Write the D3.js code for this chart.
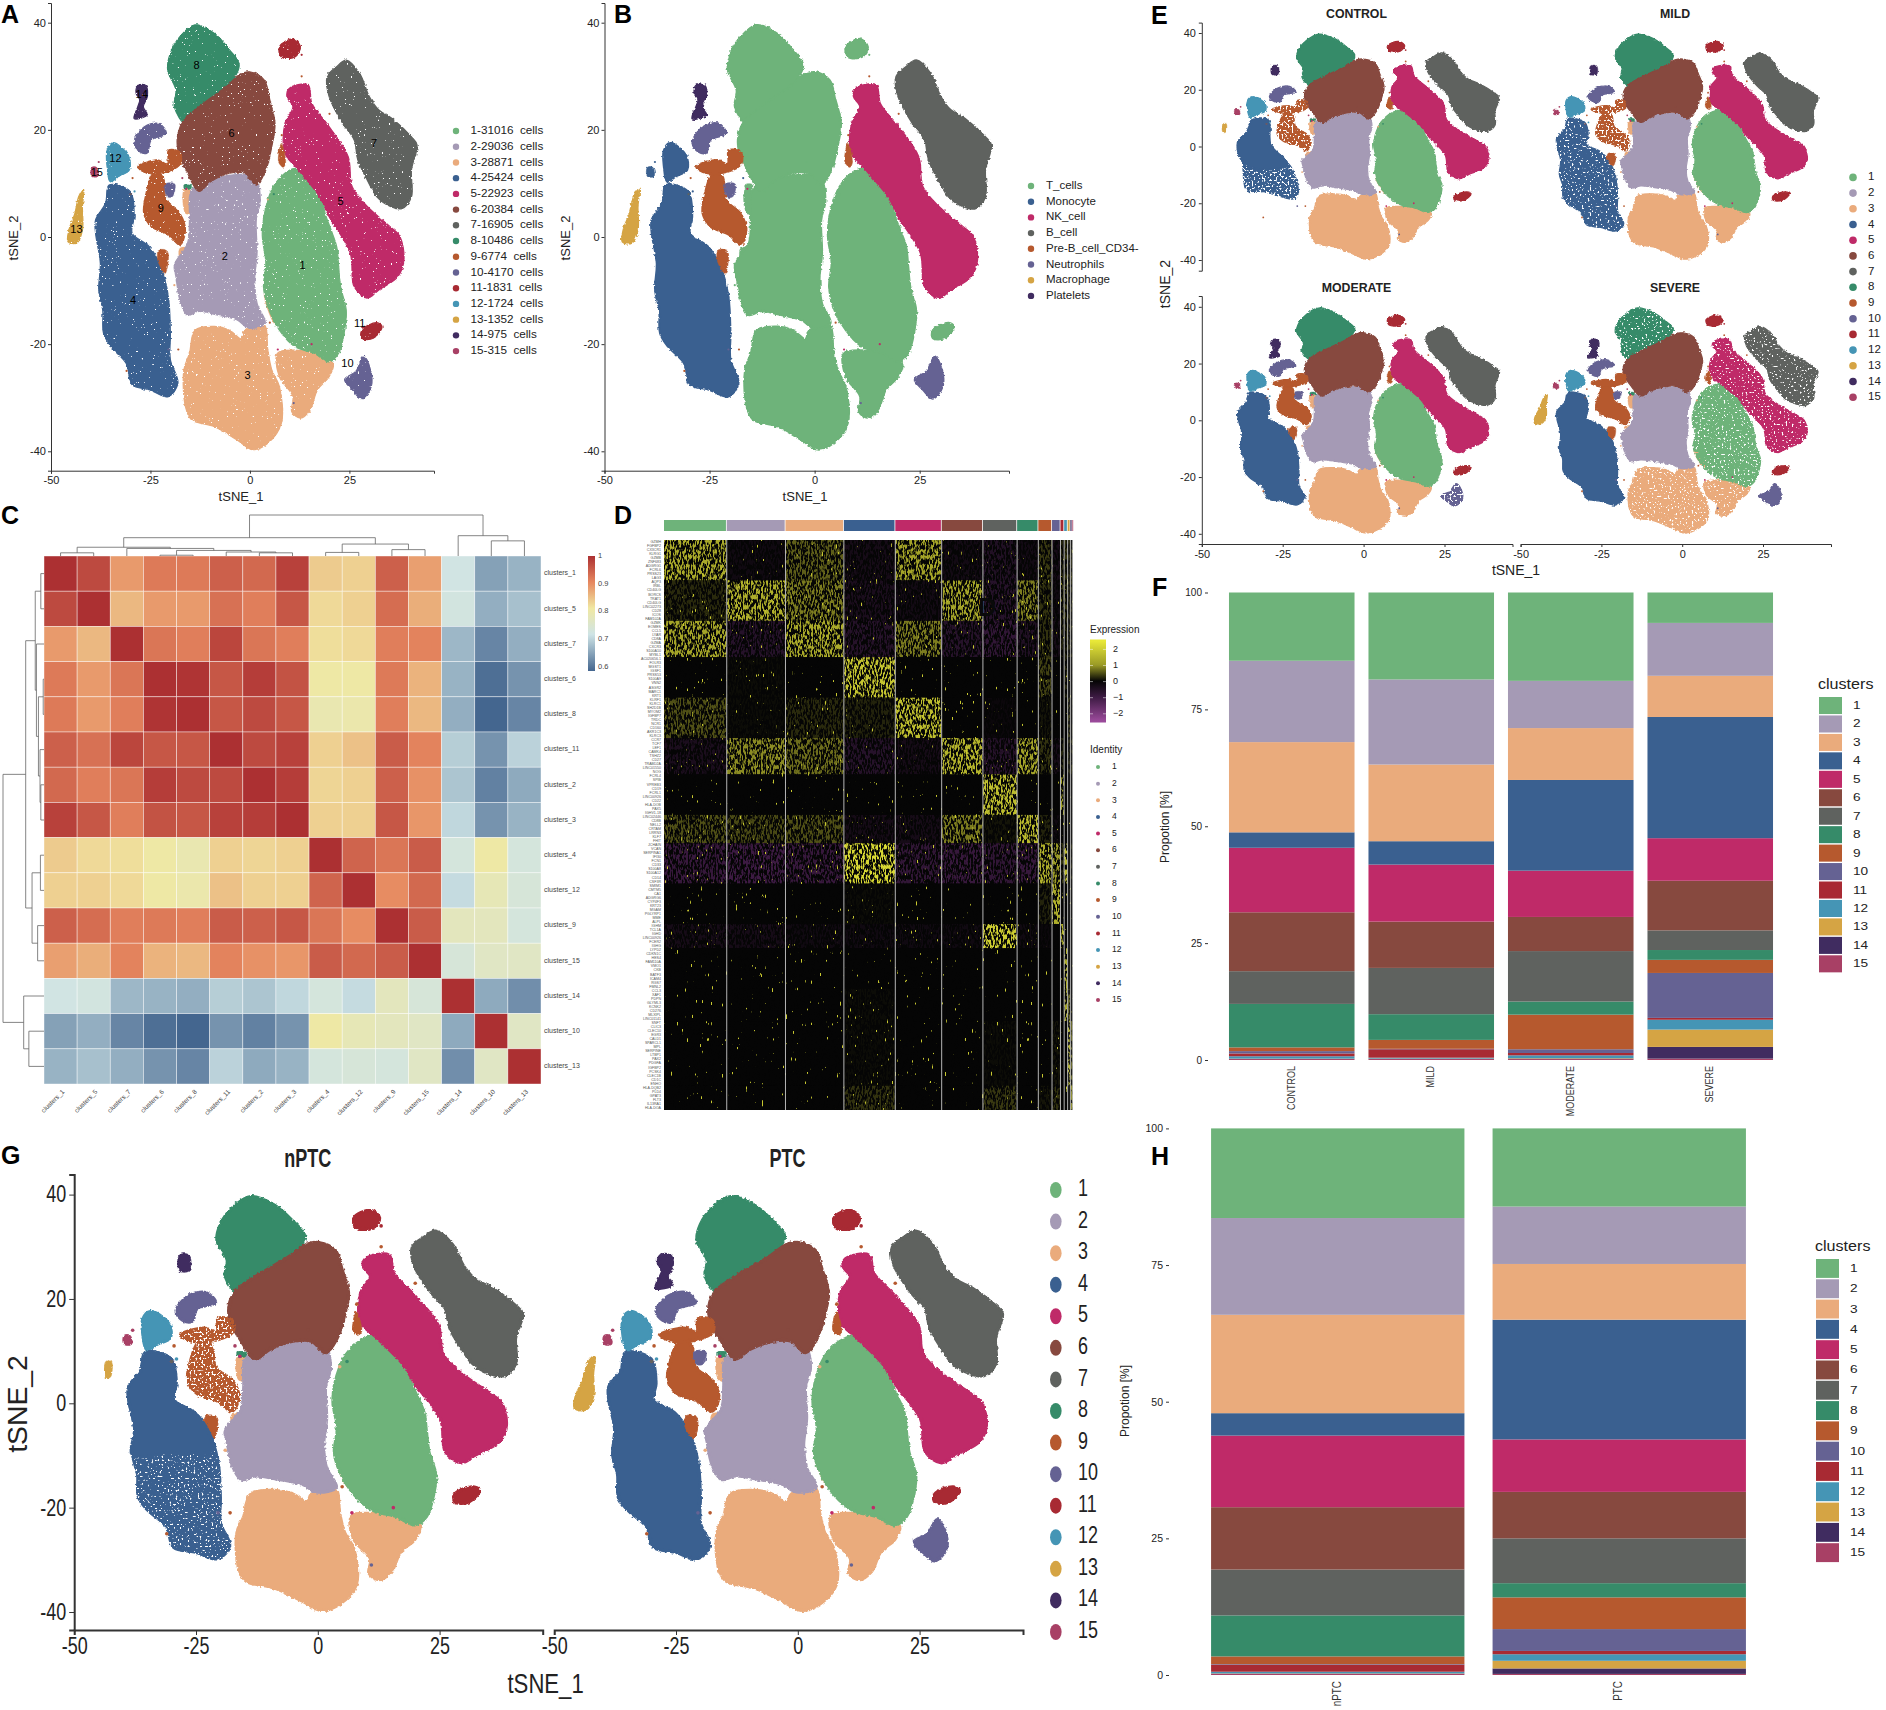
<!DOCTYPE html>
<html>
<head>
<meta charset="utf-8">
<script src="https://cdn.jsdelivr.net/npm/d3@7"></script>
<style>
  body { margin: 0; background: #fff; }
  svg { display: block; font-family: "Liberation Sans", Arial, sans-serif; }
  text { white-space: pre; fill: #222; }
  .panel-label { font-weight: 700; font-size: 25px; fill: #000; }
</style>
</head>
<body>
<svg id="fig" width="1886" height="1710"></svg>
<script>
const clusterColors = ["#6eb37a", "#a59ab5", "#eaab7c", "#3a6090", "#bf2a68", "#87493f", "#5f625f", "#368b69",
  "#b6592e", "#656293", "#a82a33", "#4595b5", "#d5a444", "#402c60", "#a84065"];
const clusterIds = d3.range(1, 16);
const cellCounts = [31016, 29036, 28871, 25424, 22923, 20384, 16905, 10486, 6774, 4170, 1831, 1724, 1352, 975, 315];

const cellTypes = ["T_cells", "Monocyte", "NK_cell", "B_cell", "Pre-B_cell_CD34-", "Neutrophils", "Macrophage", "Platelets"];
const cellTypeColors = ["#6eb37a", "#3a6090", "#bf2a68", "#5f625f", "#b6592e", "#656293", "#d5a444", "#402c60"];
// cell type index of every cluster, used on panel B
const clusterCellType = [0, 0, 0, 1, 2, 0, 3, 0, 4, 5, 0, 1, 6, 7, 1];

// cluster outlines, in tSNE units
const c1 = [[11.7,12.8],[15.1,10.9],[17.8,8.1],[18.9,4.4],[20.4,1.3],[21.8,-1.8],[22.3,-5.5],[22.8,-9.3],[24.2,-13.6],[23.8,-17.4],[22.3,-21.7],[19.9,-23.3],[16.1,-21.7],[11.3,-20.5],[7.4,-17.4],[4.5,-13],[3.4,-9.3],[4,-4.9],[3.1,0.7],[4.5,6.9],[6.4,10],[9.3,12.2]];
const c2 = [[-14.7,8.8],[-10.9,10.3],[-4.1,11.6],[1.2,11.3],[2.6,6.9],[1.6,3.2],[1.8,-3],[1.2,-8],[1.8,-12.4],[3.8,-16.1],[-0.3,-17],[-3.2,-15.5],[-8,-14.6],[-12.8,-13.9],[-15.7,-14.6],[-17.6,-11.8],[-18.6,-7.4],[-19,-5.2],[-15.7,-1.2],[-15.2,3.2],[-15.2,7.5]];
const c3 = [[-13.8,-17.4],[-8.9,-16.7],[-5.1,-17.4],[-2.2,-19],[-1.3,-17.4],[3.6,-16.4],[4.5,-21.1],[5.5,-24.8],[7.4,-27.9],[7.9,-34.8],[4.5,-38.5],[0.7,-39.7],[-3.2,-37.9],[-8.9,-35.4],[-14.7,-34.1],[-16.2,-31.7],[-16.6,-24.8],[-15.2,-21.7]];
const c3Lobe = [[6.9,-21.7],[11.3,-21.1],[16.1,-21.7],[20.9,-23.6],[19.9,-26.1],[17,-28.5],[15.1,-32.3],[12.7,-33.8],[10.5,-32.6],[10.8,-29.8],[7.4,-26.1]];
const c3Sliver = [[3.6,-10.5],[4.5,-10.5],[7.9,-16.4],[6.4,-16.4]];
const c3Upper = [[-16.6,8.8],[-15,8.8],[-15.2,4.4],[-16.2,4.4]];
const c3Mid = [[-17.6,-2.1],[-15.2,-2.1],[-15.7,-4],[-17.6,-4]];
const c4 = [[-35.4,9.7],[-30.1,8.5],[-29.1,3.8],[-29.6,0.7],[-25.3,-1.8],[-22.4,-5.5],[-20.5,-11.1],[-20,-18],[-20,-22.9],[-18.1,-27.3],[-20.5,-29.8],[-25.3,-28.5],[-29.6,-27.6],[-31.1,-23.6],[-34.9,-20.5],[-36.8,-18],[-37,-13.6],[-38,-9.9],[-37.6,-4.9],[-38.8,0.7],[-38.8,3.2],[-36.3,6.3]];
const c4Upper = [[-35.4,9.7],[-30.1,8.5],[-29.1,3.8],[-29.6,0.7],[-25.3,-1.8],[-22.4,-5.5],[-21.5,-9],[-30,-9.5],[-38,-9.9],[-37.6,-4.9],[-38.8,0.7],[-38.8,3.2],[-36.3,6.3]];
const c4Control = [[-34.6,9.3],[-29.4,9.3],[-28.7,0.7],[-22,-8],[-20.3,-17.2],[-22,-18.5],[-30.9,-15.9],[-36,-15.9],[-37.5,-5.3],[-39,1.3],[-36,5.3]];
const c4ControlUpper = [[-34.6,9.3],[-29.4,9.3],[-28.7,0.7],[-23.5,-6],[-31,-8],[-37.5,-5.3],[-39,1.3],[-36,5.3]];
const c5 = [[9.8,27.7],[14.6,28.4],[15.6,24.9],[19.9,20.6],[24.7,15],[25.7,9.4],[29.5,5.7],[35.3,1.9],[37.7,0.1],[38.7,-4.3],[37.2,-7.4],[32.4,-9.9],[29.5,-11.4],[26.2,-9.3],[25.2,-3],[19.9,3.8],[17.5,7.5],[12.2,12.5],[8.8,15.6],[8.8,21.2],[10.8,24.3],[9.3,26.2]];
const c6 = [[0.2,30.8],[3.6,29.3],[5,25.6],[6.3,21.2],[5.5,16.9],[4,12.5],[1.6,9.7],[-1.3,11.9],[-5.1,11.9],[-9.9,10.3],[-12.8,8.5],[-15.7,11.9],[-18.1,16.2],[-18.1,19.3],[-16.6,21.8],[-12.8,24.3],[-6.1,28],[-2.2,30.5]];
const c7 = [[24.2,33],[27.6,30.5],[30,26.2],[32.4,23.7],[35.8,22.1],[40.6,18.7],[42,17.2],[40.6,12.5],[40.6,7.5],[38.2,5.3],[35.3,5.7],[31.9,7.5],[29.5,10.6],[27.1,14.4],[26.2,18.1],[23.3,21.2],[19.9,26.2],[19.4,29.9],[21.8,31.8]];
const c8 = [[-13.8,39.6],[-8.9,38],[-5.1,34.9],[-2.7,32.1],[-5.5,28],[-12,23.5],[-16,21],[-19,24.3],[-18.6,27.4],[-20.7,31.2],[-20,34.3],[-17.6,37.4]];
const c8Bit = [[-16.5,9.8],[-14.8,9.8],[-14.8,9],[-16.5,9]];
const c9 = [[-24.3,11.9],[-21.9,11.3],[-21,6.9],[-17.6,4.4],[-16.2,1.3],[-17.6,-1.5],[-20.5,0.4],[-24.8,1.9],[-26.7,4.4],[-26.3,7.5]];
const c9Top = [[-28.2,13.1],[-23.4,14.4],[-20.7,13.7],[-20.5,16.2],[-17.6,15.9],[-17.4,13.7],[-20.5,12.2],[-25.8,11.9]];
const c9Low = [[-22.9,-2.4],[-20.7,-2.7],[-21.3,-6.8],[-23.2,-4.3]];
const c9Sliver = [[7.9,17.5],[9,14],[8.4,13],[7.2,14]];
const c10Low = [[28.6,-22.3],[30.3,-24.8],[30.5,-27.9],[28.1,-30.2],[25.7,-28.5],[23.8,-26.6],[26.6,-25.1]];
const c10Top = [[-26.7,20.5],[-22.9,21.2],[-21,19.3],[-24.8,18.1],[-25.8,15.7],[-27.7,15.9],[-29.1,17.6]];
const c10Mid = [[-21.3,9.9],[-18.9,9.9],[-19.5,7.5],[-20.8,7.5]];
const c11Top = [[7.4,35.5],[10.8,37],[12.7,35.5],[11.3,33.6],[7.9,33.6]];
const c11Low = [[28.1,-17.4],[31.9,-16],[33.2,-16.7],[31,-18.9],[28.1,-18.9]];
const c12 = [[-34.4,17.6],[-30.6,15.3],[-30.3,12.5],[-33,11.3],[-35.1,10.3],[-35.9,13.1],[-35.9,16.2]];
const c13 = [[-41.8,8.9],[-42.1,5.7],[-42.1,1.3],[-43.5,-1.1],[-45.7,-0.9],[-45.5,1.3],[-44,4.4],[-43,7.6]];
const c13Tiny = [[-43.5,8],[-42.4,8],[-42.6,5],[-43.5,5]];
const c14 = [[-28.2,28.3],[-26.2,28.3],[-25.8,26.2],[-26.8,24.3],[-25.8,22.8],[-29.1,22.1],[-28.2,24.3],[-27.7,25.6],[-28.6,26.8]];
const c14Tiny = [[-28.4,28.4],[-26.4,28.4],[-26.4,25.4],[-28.4,25.4]];
const c15 = [[-39.8,13],[-38.5,13],[-38.2,11.3],[-39.8,11.3]];

// stray cells: cluster, tSNE_1, tSNE_2
const strayCells = [[9,-18,-21],[9,-31,-25],[9,5,-16],[9,13,30],[9,20,23],[9,8,19],[9,-29.5,11],[5,7,-21],[5,15.5,-20],[5,-16,9],
  [3,4.5,7],[3,-19,-9],[10,-20.5,-21],[10,11,-31],[15,-17,11],[15,-30,8],[15,-38,14],[8,6,8],[1,21,-3],[7,-30,8],[6,-2,14],[11,13,34],[12,-29,8.5]];

// panel number labels on A
const labelXs = [13.2, -6.3, -0.6, -29.4, 22.8, -4.6, 31.2, -13.4, -22.4, 24.5, 27.6, -33.8, -43.6, -27.2, -38.5];
const labelYs = [-5.4, -3.7, -26, -11.9, 6.6, 19.2, 17.4, 31.9, 5.2, -23.7, -16.2, 14.5, 1.3, 26.5, 12];

const xTicks = [-50, -25, 0, 25];
const yTicks = [-40, -20, 0, 20, 40];

// correlation heatmap, panel C
const heatOrder = [1, 5, 7, 6, 8, 11, 2, 3, 4, 12, 9, 15, 14, 10, 13];
const heatValues = [
  [1, .97, .88, .915, .915, .945, .935, .98, .83, .825, .945, .875, .705, .625, .645],
  [.97, 1, .85, .88, .88, .925, .91, .955, .815, .825, .93, .86, .71, .64, .66],
  [.88, .85, 1, .92, .91, .975, .92, .91, .81, .815, .91, .905, .65, .595, .64],
  [.915, .88, .92, 1, .995, .955, .985, .96, .795, .795, .915, .855, .645, .57, .61],
  [.915, .88, .91, .995, 1, .955, .97, .955, .78, .785, .91, .85, .64, .56, .595],
  [.945, .925, .975, .955, .955, 1, .97, .98, .825, .84, .95, .905, .675, .61, .68],
  [.935, .91, .92, .985, .97, .97, 1, .985, .82, .825, .945, .89, .665, .59, .635],
  [.98, .955, .91, .96, .955, .98, .985, 1, .825, .825, .955, .885, .685, .61, .645],
  [.83, .815, .81, .795, .78, .825, .82, .825, 1, .94, .92, .95, .715, .795, .715],
  [.825, .825, .815, .795, .785, .84, .825, .825, .94, 1, .895, .935, .69, .77, .72],
  [.945, .93, .91, .915, .91, .95, .945, .955, .92, .895, 1, .95, .76, .76, .715],
  [.875, .86, .905, .855, .85, .905, .89, .885, .95, .935, .95, 1, .72, .75, .75],
  [.705, .71, .65, .645, .64, .675, .665, .685, .715, .69, .76, .72, 1, .635, .605],
  [.625, .64, .595, .57, .56, .61, .59, .61, .795, .77, .76, .75, .635, 1, .75],
  [.645, .66, .64, .61, .595, .68, .635, .645, .715, .72, .715, .75, .605, .75, 1]
];
const corrTicks = [0.6, 0.7, 0.8, 0.9, 1];
const corrColors = ["#44668f", "#cfe4e6", "#f0e8a2", "#e6875f", "#ac3032"];
const dendroMerges = [["c6", "c8", 2], ["c2", "c3", 8], ["c11", "m1", 10], ["m0", "m2", 14], ["c7", "m3", 19], ["c1", "c5", 8],
  ["m5", "m4", 22], ["c4", "c12", 9], ["c9", "c15", 16], ["m7", "m8", 30], ["m6", "m9", 46], ["c10", "c13", 38], ["c14", "m11", 51], ["m10", "m12", 103]];

// marker heatmap, panel D
const geneNames = ["GZMH","FGFBP2","CX3CR1","KLRG1","GZMB","ZNF683","ADGRG1","FCRL6","PRSS23","LAG3",
  "AQP3","IRBL","CD40LG","BORCS","TRAT1","CD40LG","LINC02273","CD28","ICOS","FAM102A",
  "GZMK","EOMES","CCL5","LYAR","CD8A","GZMA","CXCR3","S100A10","MYBL1",
  "AC020656.1","FOLR3","MGST1","IGSF1","PRSS53","S100A9","VNN2","ASGR2","MARC1","KRT1",
  "KLRF1","KLRC1","SH2D1B","MYOM2","IGFBP7","TRDC","NCR1","CD160","AKR1C3","KLRC3",
  "CCR7","TCF7","LEF1","CAMK4","TSHZ2","CD27","TRABD2A","LINC01550","NOG",
  "FCRL4","SPIB","VPREB3","CD19","FCRL1","LINC00926","CD22","HLA-DOB","PAX5","IGHV1-18",
  "LINC02446","CD8B","NELL2","CRTAM","LRRN3","KLF7","FHIT",
  "JCHAIN","VCAN","SERPINA1","IFI30","FCN1","CD33","S100A8","S100A12","CD14","CSF3R",
  "SMIM1","CMTM5","CA1","ADGRG6","CYP4F3","KRT23","MGAM","PGLYRP1","MME","ALPL",
  "IGHM","TCL1A","IGHD","LINC00926","FCER2","IGHG",
  "LYPD2","CDKN1C","HES4","FAM110A","VMO1","CKB","BATF3","ICAM4","RGS7","FMNL2","CCL3","XAF1","PDPN",
  "GLYML3","KCNK2","CD276","MLXIPL","LINC01141","SNFT","CLIC3","CLEC10","EGR3",
  "CALD1","SPARCL1","MPL","SERPINE","LTBP1","PAX2","PDGFA","IGFBP2","PCSK4","CLEC1B","CD1C","ENHO","HLA-DQB2","PLD4","GPAT3","FLT3","IL13RA1","HLA-DOA"];
const geneGroupSizes = [10, 10, 9, 10, 10, 9, 10, 7, 10, 10, 6, 10, 8, 16, 6];
const groupExpression = [
  [1.3, -.2, .6, -.3, 1.2, -.25, -.5, -.25, .35, -.3, .2, .3, .2, .2, .2],
  [.25, 1.4, .8, -.4, -.25, 1.2, -.6, .8, .3, -.2, .3, .3, .2, .2, .2],
  [1.2, -.6, 1.3, -.6, .8, -.6, -.8, -.5, .3, -.3, .2, .2, .2, .2, .2],
  [0, .05, 0, 1.8, 0, 0, 0, 0, .4, 0, 0, .2, 0, 0, .3],
  [.5, .05, .25, .2, 1.7, 0, -.1, 0, .1, 0, 0, 0, .3, 0, .5],
  [-.4, .9, .7, -.6, -.3, 1.5, -.6, 1.2, .3, -.3, .2, 0, .2, .2, .6],
  [0, 0, 0, 0, 0, 0, 1.7, 0, 0, 0, 1.2, 0, 0, 0, .2],
  [.5, .45, .5, -.3, -.3, .8, .1, 1.6, .2, -.2, 0, 0, 0, 0, .2],
  [-.9, -1, -.9, 2.2, -.8, -.9, -.8, -.9, 1.4, 1, .3, 1.6, 0, .2, .3],
  [0, 0, 0, .05, 0, 0, 0, 0, .2, 1.4, 0, 0, 0, 0, 0],
  [-.3, -.3, -.2, -.2, -.2, -.2, 2, -.2, -.1, 0, 1.6, 0, 0, 0, 0],
  [0, 0, 0, 0, 0, 0, 0, 0, 0, 0, 0, 1.3, 0, 0, 0],
  [0, 0, 0, .05, 0, 0, 0, 0, 0, 0, 0, 1.2, .6, 0, 0],
  [0, 0, 0, .05, 0, 0, .05, 0, 0, .1, 0, 0, 1.5, .6, .6],
  [0, 0, 0, .3, 0, 0, .35, 0, .1, .3, 0, 0, 0, .9, 1.4]
];
const expressionTicks = [-2, -1, 0, 1, 2];
const expressionStops = [-2.5, -1, 0, 1, 2.5];
const expressionColors = ["#9a4a9a", "#3c1a42", "#050505", "#9a9a26", "#e8e838"];

// stacked bars, panels F and H (percent per cluster, 1..15)
const diseaseGroups = ["CONTROL", "MILD", "MODERATE", "SEVERE"];
const controlProps = [14.6, 17.4, 19.3, 3.3, 13.8, 12.6, 7, 9.3, .8, .5, .6, .5, .05, .05, .2];
const mildProps = [18.6, 18.2, 16.4, 5, 12.2, 9.9, 9.9, 5.5, 1.9, .1, 1.8, .2, .05, .05, .2];
const moderateProps = [18.9, 10.1, 11.1, 19.4, 9.9, 7.3, 10.8, 2.8, 7.4, .8, .5, .6, .1, .1, .2];
const severeProps = [6.5, 11.3, 8.8, 25.9, 9.1, 10.6, 4.2, 2.1, 2.8, 9.6, .4, 2.1, 3.7, 2.5, .3];
const ptcGroups = ["nPTC", "PTC"];
const nptcProps = [16.4, 17.7, 18, 4.1, 13.1, 11.4, 8.4, 7.5, 1.4, .1, 1.3, .3, .05, .05, .2];
const ptcProps = [14.3, 10.5, 10.2, 21.9, 9.6, 8.5, 8.2, 2.6, 5.8, 4, .6, 1.2, 1.4, 1, .2];
const propTicks = [0, 25, 50, 75, 100];

const svg = d3.select("#fig");
const defs = svg.append("defs");

// texture filters: they only give the flat shapes and blocks a grain
function noiseFilter(id, freq, seed, slope, intercept, operator, displace) {
  const f = defs.append("filter").attr("id", id)
    .attr("x", "-5%").attr("y", "-5%").attr("width", "110%").attr("height", "110%")
    .attr("color-interpolation-filters", "sRGB");
  let source = "SourceGraphic";
  if (displace) {
    f.append("feTurbulence").attr("type", "fractalNoise").attr("baseFrequency", 0.35).attr("numOctaves", 2).attr("seed", 4).attr("result", "wob");
    f.append("feDisplacementMap").attr("in", "SourceGraphic").attr("in2", "wob").attr("scale", displace)
      .attr("xChannelSelector", "R").attr("yChannelSelector", "G").attr("result", "moved");
    source = "moved";
  }
  if (!freq) return;
  f.append("feTurbulence").attr("type", "fractalNoise").attr("baseFrequency", freq).attr("numOctaves", 2).attr("seed", seed).attr("result", "noise");
  f.append("feColorMatrix").attr("in", "noise").attr("type", "matrix")
    .attr("values", `0 0 0 0 0  0 0 0 0 0  0 0 0 0 0  ${slope} 0 0 0 ${intercept}`).attr("result", "mask");
  f.append("feComposite").attr("in", source).attr("in2", "mask").attr("operator", operator);
}
noiseFilter("rough", null, 0, 0, 0, "", 3.5);
noiseFilter("speckLight", "0.55", 7, 18, -13, "out", 3);
noiseFilter("speckMid", "0.5", 8, 14, -8.9, "out", 3);
noiseFilter("speckSparse", "0.5", 9, 14, -7.9, "out", 3);
noiseFilter("heatGrain", "0.6 0.2", 11, 7, -3.1, "in");
noiseFilter("heatDots", "0.8 0.14", 13, 16, -11.9, "in");

function panelLabel(t, x, y) {
  svg.append("text").attr("class", "panel-label").attr("x", x).attr("y", y).text(t);
}

// the spine runs further than the ticks, so widen the scale to the spine ends
function extendedScale(d0, d1, r0, r1, end0, end1) {
  const s = d3.scaleLinear().domain([d0, d1]).range([r0, r1]);
  return d3.scaleLinear().domain([s.invert(end0), s.invert(end1)]).range([end0, end1]);
}

function basePieces() {
  return [
    ["c3", 3, c3], ["c3Lobe", 3, c3Lobe], ["c3Sliver", 3, c3Sliver], ["c3Upper", 3, c3Upper], ["c3Mid", 3, c3Mid],
    ["c2", 2, c2], ["c1", 1, c1], ["c4", 4, c4], ["c8", 8, c8], ["c6", 6, c6], ["c5", 5, c5], ["c7", 7, c7],
    ["c8Bit", 8, c8Bit], ["c9", 9, c9], ["c9Top", 9, c9Top], ["c9Low", 9, c9Low], ["c9Sliver", 9, c9Sliver],
    ["c10Low", 10, c10Low], ["c10Top", 10, c10Top], ["c10Mid", 10, c10Mid], ["c11Top", 11, c11Top], ["c11Low", 11, c11Low],
    ["c12", 12, c12], ["c13", 13, c13], ["c14", 14, c14], ["c15", 15, c15],
    ["c13Tiny", 13, c13Tiny], ["c14Tiny", 14, c14Tiny], ["c4Upper", 4, c4Upper], ["c4Control", 4, c4Control], ["c4ControlUpper", 4, c4ControlUpper]
  ];
}
const alwaysOptional = ["c13Tiny", "c14Tiny", "c4Upper", "c4Control", "c4ControlUpper"];

function drawTsne(p) {
  const g = svg.append("g");
  const x = extendedScale(-50, 25, p.x0, p.x25, p.x0, p.right);
  const y = extendedScale(-40, 40, p.yBottom, p.yTop, p.axisBottom, p.axisTop);
  const line = d3.line().x((d) => x(d[0])).y((d) => y(d[1])).curve(d3.curveCatmullRomClosed.alpha(0.5));
  const color = p.colorOf || ((c) => clusterColors[c - 1]);
  const hide = p.hide || [];
  const add = p.add || [];
  const sparse = p.sparse || [];
  const mid = p.mid || [];
  const outline = p.outline || 1.2;

  const pieces = basePieces().filter((d) =>
    (!alwaysOptional.includes(d[0]) || add.includes(d[0])) && !hide.includes(d[0]));

  g.append("g").selectAll("path").data(pieces).join("path")
    .attr("d", (d) => line(d[2]))
    .attr("fill", (d) => color(d[1]))
    .attr("stroke", (d) => color(d[1]))
    .attr("stroke-linejoin", "round")
    // little shapes would go square under a wide stroke
    .attr("stroke-width", (d) => d[2].length <= 4 ? outline * .3 : outline)
    .attr("filter", (d) => {
      if (sparse.includes(d[0])) return "url(#speckSparse)";
      if (mid.includes(d[0])) return "url(#speckMid)";
      return p.light ? "url(#speckLight)" : "url(#rough)";
    });

  g.append("g").selectAll("circle").data(strayCells).join("circle")
    .attr("cx", (d) => x(d[1])).attr("cy", (d) => y(d[2]))
    .attr("r", p.strayR || 1.1).attr("fill", (d) => color(d[0]));

  const fs = p.tickFont || 11;
  const squeeze = p.squeeze || 1;
  const yAxis = g.append("g").attr("transform", `translate(${p.x0},0)`)
    .call(d3.axisLeft(y).tickValues(yTicks).tickFormat(String).tickSize(p.tickLen || 3).tickPadding(2));
  const xAxis = g.append("g").attr("transform", `translate(0,${p.axisBottom})`)
    .call(d3.axisBottom(x).tickValues(xTicks).tickFormat(String).tickSize(p.tickLen || 3).tickPadding(3));
  g.selectAll(".domain").attr("stroke", "#333").attr("stroke-width", p.axisWidth || 1);
  g.selectAll(".tick line").attr("stroke", "#333");
  g.selectAll(".tick text").style("font-size", fs + "px").style("font-family", "inherit").attr("fill", "#333");
  if (squeeze !== 1) {
    yAxis.selectAll(".tick text").attr("x", 0).attr("transform", `translate(${-(p.tickLen || 3) - 3},0) scale(${squeeze},1)`);
    xAxis.selectAll(".tick text").attr("transform", `scale(${squeeze},1)`);
  }
  if (p.noYAxis) yAxis.remove();
  if (p.noXAxis) xAxis.remove();
  if (p.numbers) {
    g.append("g").selectAll("text").data(labelXs).join("text")
      .attr("x", (d) => x(d)).attr("y", (d, i) => y(labelYs[i]))
      .attr("text-anchor", "middle").attr("dominant-baseline", "middle")
      .style("font-size", "11px").style("fill", "#000").text((d, i) => clusterIds[i]);
  }
  if (p.title) {
    g.append("text").attr("transform", `translate(${p.titleX},${p.titleY}) scale(${p.titleSqueeze || 1},1)`)
      .attr("text-anchor", "middle").style("font-size", p.titleFont + "px").style("font-weight", p.titleWeight || 700).text(p.title);
  }
}

function axisTitle(t, x, y, size, rotate, squeeze) {
  svg.append("text").attr("transform", `translate(${x},${y}) rotate(${rotate || 0}) scale(${squeeze || 1},1)`)
    .attr("text-anchor", "middle").attr("dominant-baseline", "middle")
    .style("font-size", size + "px").text(t);
}

// panel A
const panelA = { x0: 51, x25: 349.4, right: 434, yTop: 22.7, yBottom: 451.3, axisBottom: 470.7, axisTop: 3, numbers: true, light: true };
drawTsne(panelA);
axisTitle("tSNE_1", 241, 498, 13);
axisTitle("tSNE_2", 15, 238, 13, -90);
panelLabel("A", 1, 23);
const legendA = svg.append("g");
legendA.selectAll("circle").data(cellCounts).join("circle")
  .attr("cx", 456).attr("cy", (d, i) => 131 + i * 15.72).attr("r", 3.2).attr("fill", (d, i) => clusterColors[i]);
legendA.selectAll("text").data(cellCounts).join("text")
  .attr("x", 470.5).attr("y", (d, i) => 131 + i * 15.72).attr("dominant-baseline", "middle")
  .style("font-size", "11.7px").text((d, i) => `${clusterIds[i]}-${d}  cells`);

// panel B
drawTsne({ x0: 604.5, x25: 919.7, right: 1009, yTop: 22.7, yBottom: 451.3, axisBottom: 470.7, axisTop: 3, outline: 1.8,
  colorOf: (c) => cellTypeColors[clusterCellType[c - 1]] });
axisTitle("tSNE_1", 805, 498, 13);
axisTitle("tSNE_2", 567, 238, 13, -90);
panelLabel("B", 614, 23);
const legendB = svg.append("g");
legendB.selectAll("circle").data(cellTypes).join("circle")
  .attr("cx", 1031).attr("cy", (d, i) => 186 + i * 15.7).attr("r", 3.2).attr("fill", (d, i) => cellTypeColors[i]);
legendB.selectAll("text").data(cellTypes).join("text")
  .attr("x", 1046).attr("y", (d, i) => 186 + i * 15.7).attr("dominant-baseline", "middle")
  .style("font-size", "11.5px").text((d) => d);

// panel C
function drawCorrelation() {
  const left = 44, right = 541, top = 556, bottom = 1084;
  const labels = heatOrder.map((d) => `clusters_${d}`);
  const xBand = d3.scaleBand().domain(labels).range([left, right]);
  const yBand = d3.scaleBand().domain(labels).range([top, bottom]);
  const color = d3.scaleLinear().domain([.56, .7, .8, .9, 1]).range(corrColors);
  const g = svg.append("g");
  heatValues.forEach((row, i) => {
    g.append("g").selectAll("rect").data(row).join("rect")
      .attr("x", (d, j) => xBand(labels[j])).attr("y", yBand(labels[i]))
      .attr("width", xBand.bandwidth()).attr("height", yBand.bandwidth())
      .attr("fill", (d) => color(d)).attr("stroke", "#fff").attr("stroke-opacity", .6).attr("stroke-width", .7);
  });
  g.selectAll(".rlab").data(labels).join("text").attr("class", "rlab")
    .attr("x", right + 3).attr("y", (d) => yBand(d) + yBand.bandwidth() / 2).attr("dominant-baseline", "middle")
    .style("font-size", "7px").style("fill", "#444").text((d) => d);
  g.selectAll(".blab").data(labels).join("text").attr("class", "blab")
    .attr("transform", (d) => `translate(${xBand(d) + xBand.bandwidth() / 2 + 3},${bottom + 7}) rotate(-45)`)
    .attr("text-anchor", "end").attr("dominant-baseline", "middle")
    .style("font-size", "6.5px").style("fill", "#444").text((d) => d);

  // dendrograms from the merge list
  const depth = d3.scaleLinear().domain([0, 103]).range([0, 41]);
  const nodes = {};
  labels.forEach((d, i) => { nodes[`c${heatOrder[i]}`] = { pos: i + .5, h: 0 }; });
  const segs = [];
  dendroMerges.forEach((m, i) => {
    const a = nodes[m[0]], b = nodes[m[1]];
    segs.push([a.pos, a.h, a.pos, m[2]], [a.pos, m[2], b.pos, m[2]], [b.pos, m[2], b.pos, b.h]);
    nodes[`m${i}`] = { pos: (a.pos + b.pos) / 2, h: m[2] };
  });
  const stepX = xBand.step(), stepY = yBand.step();
  const tree = g.append("g").attr("stroke", "#666").attr("stroke-width", .8);
  tree.selectAll(".top").data(segs).join("line").attr("class", "top")
    .attr("x1", (d) => left + d[0] * stepX).attr("x2", (d) => left + d[2] * stepX)
    .attr("y1", (d) => top - depth(d[1])).attr("y2", (d) => top - depth(d[3]));
  tree.selectAll(".side").data(segs).join("line").attr("class", "side")
    .attr("y1", (d) => top + d[0] * stepY).attr("y2", (d) => top + d[2] * stepY)
    .attr("x1", (d) => left - depth(d[1])).attr("x2", (d) => left - depth(d[3]));

  // colour key
  const grad = defs.append("linearGradient").attr("id", "corrGrad").attr("x1", 0).attr("x2", 0).attr("y1", 1).attr("y2", 0);
  color.domain().forEach((v, i) => grad.append("stop").attr("offset", (v - .56) / .44).attr("stop-color", corrColors[i]));
  const keyY = d3.scaleLinear().domain([.6, 1]).range([667, 556]);
  g.append("rect").attr("x", 588).attr("y", 556).attr("width", 7).attr("height", 115).attr("fill", "url(#corrGrad)");
  g.selectAll(".klab").data(corrTicks).join("text").attr("class", "klab")
    .attr("x", 598).attr("y", (d) => keyY(d)).attr("dominant-baseline", "middle")
    .style("font-size", "7.5px").style("fill", "#444").text((d) => d);
}
drawCorrelation();
panelLabel("C", 1, 524);

// panel D
function drawMarkers() {
  const left = 664, right = 1073, top = 540, bottom = 1110;
  const total = d3.sum(cellCounts);
  const starts = d3.cumsum([0].concat(cellCounts));
  const x = d3.scaleLinear().domain([0, total]).range([left, right]);
  const y = d3.scaleBand().domain(d3.range(geneNames.length)).range([top, bottom]);
  const groupStart = d3.cumsum([0].concat(geneGroupSizes));
  const color = d3.scaleLinear().domain(expressionStops).range(expressionColors);
  const g = svg.append("g");

  g.selectAll(".cbar").data(cellCounts).join("rect").attr("class", "cbar")
    .attr("x", (d, i) => x(starts[i])).attr("width", (d) => Math.max(x(d) - left - 0.8, 0.8))
    .attr("y", 520).attr("height", 11).attr("fill", (d, i) => clusterColors[i]);

  g.append("rect").attr("x", left).attr("y", top).attr("width", right - left).attr("height", bottom - top).attr("fill", "#050505");

  const blocks = [];
  groupExpression.forEach((row, gi) => row.forEach((v, ci) => blocks.push({ gi, ci, v })));
  g.append("g").attr("filter", "url(#heatGrain)").selectAll("rect").data(blocks).join("rect")
    .attr("x", (d) => x(starts[d.ci])).attr("width", (d) => x(cellCounts[d.ci]) - left)
    .attr("y", (d) => y(groupStart[d.gi])).attr("height", (d) => y.step() * geneGroupSizes[d.gi])
    .attr("fill", (d) => color(d.v));
  g.append("rect").attr("x", left).attr("y", top).attr("width", right - left).attr("height", bottom - top)
    .attr("fill", "#c8c830").attr("filter", "url(#heatDots)");

  g.selectAll(".sep").data(starts.slice(1, 15)).join("line").attr("class", "sep")
    .attr("x1", (d) => x(d)).attr("x2", (d) => x(d)).attr("y1", top).attr("y2", bottom)
    .attr("stroke", "#c9c9c9").attr("stroke-width", .9);

  g.selectAll(".gene").data(geneNames).join("text").attr("class", "gene")
    .attr("x", left - 3).attr("y", (d, i) => y(i) + y.step() / 2).attr("text-anchor", "end").attr("dominant-baseline", "middle")
    .style("font-size", "3.6px").style("fill", "#555").text((d) => d);

  // the figure has a stray dark letter sitting on the heatmap
  g.append("text").attr("x", 978).attr("y", 616).style("font-size", "25px").style("font-weight", 700).style("fill", "#0a0a0a").text("D");

  const legendX = 1090;
  g.append("text").attr("x", legendX).attr("y", 633).style("font-size", "10px").text("Expression");
  const keyY = d3.scaleLinear().domain([2, -2]).range([649.4, 713.8]);
  const grad = defs.append("linearGradient").attr("id", "exprGrad").attr("x1", 0).attr("x2", 0).attr("y1", 1).attr("y2", 0);
  expressionStops.forEach((v, i) => grad.append("stop").attr("offset", (v + 2.6) / 5.2).attr("stop-color", expressionColors[i]));
  g.append("rect").attr("x", legendX).attr("y", 639.5).attr("width", 16).attr("height", 83).attr("fill", "url(#exprGrad)");
  g.selectAll(".ekey").data(expressionTicks).join("text").attr("class", "ekey")
    .attr("x", legendX + 23).attr("y", (d) => keyY(d)).attr("dominant-baseline", "middle")
    .style("font-size", "9px").text((d) => d < 0 ? `\u2212${-d}` : d);
  g.selectAll(".etick").data(expressionTicks).join("line").attr("class", "etick")
    .attr("x1", legendX).attr("x2", legendX + 16).attr("y1", (d) => keyY(d)).attr("y2", (d) => keyY(d))
    .attr("stroke", "#fff").attr("stroke-width", .5).attr("stroke-dasharray", "3 10");
  g.append("text").attr("x", legendX).attr("y", 753).style("font-size", "10px").text("Identity");
  g.selectAll(".idot").data(clusterIds).join("circle").attr("class", "idot")
    .attr("cx", 1098).attr("cy", (d, i) => 767 + i * 16.64).attr("r", 2).attr("fill", (d, i) => clusterColors[i]);
  g.selectAll(".itxt").data(clusterIds).join("text").attr("class", "itxt")
    .attr("x", 1112).attr("y", (d, i) => 767 + i * 16.64).attr("dominant-baseline", "middle")
    .style("font-size", "8.5px").text((d) => d);
}
drawMarkers();
panelLabel("D", 614, 524);

// panel E
const eCommon = { tickFont: 11.5, squeeze: .95, strayR: .9, outline: 1.3 };
const eRows = [{ yTop: 33, yBottom: 260, axisBottom: 270.7, axisTop: 22.6 }, { yTop: 306.8, yBottom: 533.8, axisBottom: 544, axisTop: 296 }];
const eCols = [{ x0: 1201.8, x25: 1444.5, right: 1512.5 }, { x0: 1520.6, x25: 1763, right: 1831 }];
const ePanels = [
  { row: 0, col: 0, title: "CONTROL", hide: ["c4", "c10Low", "c10Mid", "c13", "c14", "c9Low"], add: ["c4Control", "c4ControlUpper", "c13Tiny", "c14Tiny"], sparse: ["c4Control", "c9", "c9Top"] },
  { row: 0, col: 1, title: "MILD", hide: ["c10Low", "c10Mid", "c13", "c14"], add: ["c14Tiny"], mid: ["c4"], sparse: ["c9", "c9Top"] },
  { row: 1, col: 0, title: "MODERATE", hide: ["c13"], add: [], sparse: ["c10Low"] },
  { row: 1, col: 1, title: "SEVERE", hide: [], add: [], mid: ["c8", "c1", "c7", "c5", "c3", "c3Lobe"] }
];
ePanels.forEach((e) => {
  drawTsne(Object.assign({}, eCommon, eRows[e.row], eCols[e.col], e, {
    noYAxis: e.col === 1, noXAxis: e.row === 0, title: e.title, titleFont: 13,
    titleX: e.col === 0 ? 1356.5 : 1675, titleY: e.row === 0 ? 18 : 292, titleSqueeze: .95
  }));
});
axisTitle("tSNE_1", 1516, 571, 14);
axisTitle("tSNE_2", 1166, 284, 14, -90);
panelLabel("E", 1151, 24);
const legendE = svg.append("g");
legendE.selectAll("circle").data(clusterIds).join("circle")
  .attr("cx", 1853).attr("cy", (d, i) => 177.4 + i * 15.7).attr("r", 3.8).attr("fill", (d, i) => clusterColors[i]);
legendE.selectAll("text").data(clusterIds).join("text")
  .attr("x", 1868).attr("y", (d, i) => 177.4 + i * 15.7).attr("dominant-baseline", "middle")
  .style("font-size", "11.5px").text((d) => d);

// stacked bars
function drawStack(o) {
  const keys = clusterIds.map((d) => `c${d}`).reverse();
  const rows = o.groups.map((name, i) => {
    const r = { name };
    o.values[i].forEach((v, j) => { r[`c${j + 1}`] = v; });
    return r;
  });
  const series = d3.stack().keys(keys).offset(d3.stackOffsetExpand)(rows);
  const x = d3.scaleBand().domain(o.groups).range([o.left, o.right]).paddingInner(.1).paddingOuter(.05);
  const y = d3.scaleLinear().domain([0, 100]).range([o.y0, o.y100]);
  const g = svg.append("g");
  g.selectAll(".s").data(series).join("g").attr("class", "s")
    .attr("fill", (s) => clusterColors[+s.key.slice(1) - 1])
    .selectAll("rect").data((s) => s).join("rect")
    .attr("x", (d) => x(d.data.name)).attr("width", x.bandwidth())
    .attr("y", (d) => y(d[1] * 100)).attr("height", (d) => y(d[0] * 100) - y(d[1] * 100));
  const yAxis = g.append("g").attr("transform", `translate(${o.tickX},0)`)
    .call(d3.axisLeft(y).tickValues(propTicks).tickSize(o.tickLen).tickPadding(3));
  yAxis.select(".domain").remove();
  yAxis.selectAll(".tick line").attr("stroke", "#333");
  yAxis.selectAll(".tick text").style("font-size", o.tickFont + "px").style("font-family", "inherit");
  g.selectAll(".cat").data(o.groups).join("text").attr("class", "cat")
    .attr("transform", (d) => `translate(${x(d) + x.bandwidth() / 2},${o.y0 + 6}) rotate(-90) scale(.9,1.1)`)
    .attr("text-anchor", "end").attr("dominant-baseline", "middle")
    .style("font-size", o.catFont + "px").style("fill", "#333").text((d) => d);
  axisTitle("Propotion [%]", o.titleX, o.titleY, 12, -90);
  g.append("text").attr("transform", `translate(${o.legendX},${o.legendTop - 8}) scale(1.15,1)`).style("font-size", "14px").text("clusters");
  g.selectAll(".sw").data(clusterIds).join("rect").attr("class", "sw")
    .attr("x", o.legendX + 1).attr("y", (d, i) => o.legendTop + i * o.legendStep).attr("width", 23).attr("height", o.legendStep - 1.4)
    .attr("fill", (d, i) => clusterColors[i]);
  g.selectAll(".swt").data(clusterIds).join("text").attr("class", "swt")
    .attr("transform", (d, i) => `translate(${o.legendX + 35},${o.legendTop + (i + .5) * o.legendStep}) scale(1.3,1)`)
    .attr("dominant-baseline", "middle")
    .style("font-size", "10.5px").text((d) => d);
}
drawStack({ groups: diseaseGroups, values: [controlProps, mildProps, moderateProps, severeProps],
  left: 1222, right: 1780, y0: 1060, y100: 592.5, tickX: 1208, tickLen: 3, tickFont: 10, catFont: 10,
  titleX: 1166, titleY: 827, legendX: 1818, legendTop: 697, legendStep: 18.45 });
panelLabel("F", 1152, 596);
drawStack({ groups: ptcGroups, values: [nptcProps, ptcProps],
  left: 1197, right: 1760, y0: 1675, y100: 1128.4, tickX: 1169, tickLen: 3, tickFont: 10.5, catFont: 11,
  titleX: 1126, titleY: 1401, legendX: 1815, legendTop: 1259, legendStep: 20.3 });
panelLabel("H", 1151, 1165);

// panel G
const gCommon = { yTop: 1194.6, yBottom: 1612, axisBottom: 1630, axisTop: 1174.5, tickFont: 23, squeeze: .78, tickLen: 5, axisWidth: 2, strayR: 1.8, outline: 3.2,
  titleFont: 25, titleWeight: 700, titleY: 1167, titleSqueeze: .72 };
drawTsne(Object.assign({}, gCommon, { x0: 74.2, x25: 439.6, right: 542.7, title: "nPTC", titleX: 307.7,
  hide: ["c10Low", "c10Mid", "c13", "c14"], add: ["c4Upper", "c13Tiny", "c14Tiny"], mid: ["c4"], sparse: ["c9", "c9Top"] }));
drawTsne(Object.assign({}, gCommon, { x0: 554.2, x25: 919.6, right: 1023, title: "PTC", titleX: 787.5, noYAxis: true }));
axisTitle("tSNE_1", 545.6, 1686, 27, 0, .82);
axisTitle("tSNE_2", 19.5, 1404, 27, -90, 1.05);
panelLabel("G", 1, 1164);
const legendG = svg.append("g");
legendG.selectAll("ellipse").data(clusterIds).join("ellipse")
  .attr("cx", 1055.8).attr("cy", (d, i) => 1190 + i * 31.57).attr("rx", 5.8).attr("ry", 8).attr("fill", (d, i) => clusterColors[i]);
legendG.selectAll("text").data(clusterIds).join("text")
  .attr("transform", (d, i) => `translate(1078,${1190 + i * 31.57}) scale(.78,1)`).attr("dominant-baseline", "middle")
  .style("font-size", "23px").text((d) => d);
</script>
</body>
</html>
